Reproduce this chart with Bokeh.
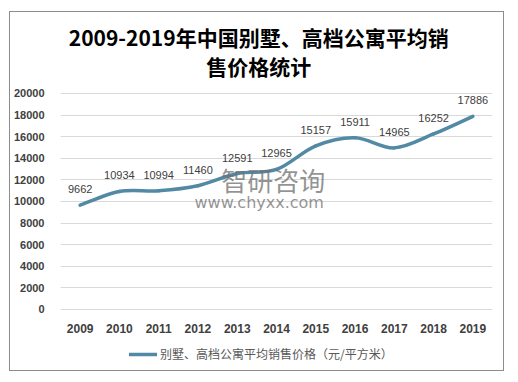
from bokeh.plotting import figure
from bokeh.models import (Range1d, FixedTicker, Label, Legend, LegendItem,
                          ColumnDataSource)
from bokeh.core.properties import value
from bokeh.embed import file_html
from bokeh.resources import INLINE

years = [2009, 2010, 2011, 2012, 2013, 2014, 2015, 2016, 2017, 2018, 2019]
prices = [9662, 10934, 10994, 11460, 12591, 12965, 15157, 15911, 14965, 16252, 17886]
y_ticks = list(range(0, 20001, 2000))
series_name = "别墅、高档公寓平均销售价格（元/平方米）"
title_line1 = "2009-2019年中国别墅、高档公寓平均销"
title_line2 = "售价格统计"

LINE_COLOR = "#528aa5"
CJK = "Noto Sans CJK SC"

# frame extends above and below the 0..20000 band to hold titles, axis labels and legend
p = figure(width=495, height=360, output_backend="svg", toolbar_location=None,
           x_range=Range1d(2008.5, 2019.5), y_range=Range1d(-5741, 27407),
           min_border_left=49, min_border_right=13, min_border_top=1,
           min_border_bottom=1)
p.styles = {"border": "1px solid #8c8c8c", "margin-top": "11px", "margin-left": "9px"}
p.outline_line_color = None
p.background_fill_color = "white"
p.border_fill_color = "white"

# titles (two lines, centred on the chart box)
for txt, yy in ((title_line1, 25185), (title_line2, 22500)):
    p.add_layout(Label(x=2013.547, y=yy, text=txt, text_font=CJK, text_font_size="21px",
                       text_font_style="bold", text_color="#000000",
                       text_align="center", text_baseline="middle"))

# axes
p.xaxis.ticker = FixedTicker(ticks=years)
p.yaxis.ticker = FixedTicker(ticks=y_ticks)
p.xaxis.fixed_location = 0
for ax in (p.xaxis[0], p.yaxis[0]):
    ax.axis_line_color = None
    ax.major_tick_line_color = None
    ax.minor_tick_line_color = None
    ax.major_label_text_font = "Liberation Sans"
    ax.major_label_text_font_style = "bold"
    ax.major_label_text_color = "#404040"
p.xaxis.major_label_text_font_size = "12px"
p.yaxis.major_label_text_font_size = "11px"
p.xaxis.major_label_standoff = 9
p.yaxis.major_label_standoff = 10
p.xgrid.grid_line_color = None
p.ygrid.grid_line_color = "#d9d9d9"
p.ygrid.grid_line_width = 1

# watermark
p.add_layout(Label(x=2013.92, y=12040, text="智研咨询", text_font=CJK, text_font_size="26px",
                   text_color="#707070", text_alpha=0.75, text_align="center",
                   text_baseline="middle"))
p.add_layout(Label(x=2013.56, y=9900, text="www.chyxx.com", text_font="DejaVu Sans",
                   text_font_size="16px", text_color="#707070", text_alpha=0.75,
                   text_align="center", text_baseline="middle"))

# smooth line via bezier segments (control points derived from data)
n = len(years)
x0, y0, x1, y1, cx0, cy0, cx1, cy1 = ([] for _ in range(8))
for i in range(n - 1):
    pxm = years[i - 1] if i > 0 else years[i]
    pym = prices[i - 1] if i > 0 else prices[i]
    pxp = years[i + 2] if i + 2 < n else years[i + 1]
    pyp = prices[i + 2] if i + 2 < n else prices[i + 1]
    x0.append(years[i]); y0.append(prices[i])
    x1.append(years[i + 1]); y1.append(prices[i + 1])
    cx0.append(years[i] + (years[i + 1] - pxm) / 6)
    cy0.append(prices[i] + (prices[i + 1] - pym) / 6)
    cx1.append(years[i + 1] - (pxp - years[i]) / 6)
    cy1.append(prices[i + 1] - (pyp - prices[i]) / 6)
src = ColumnDataSource(dict(x0=x0, y0=y0, x1=x1, y1=y1, cx0=cx0, cy0=cy0, cx1=cx1, cy1=cy1))
bez = p.bezier(x0="x0", y0="y0", x1="x1", y1="y1", cx0="cx0", cy0="cy0", cx1="cx1",
               cy1="cy1", source=src, line_color=LINE_COLOR, line_width=3.5,
               line_cap="round")

# data labels
lab_src = ColumnDataSource(dict(x=years, y=prices, t=[str(v) for v in prices]))
p.text(x="x", y="y", text="t", source=lab_src, text_font=value("Liberation Sans"),
       text_font_size="11px", text_color="#404040", text_align="center",
       text_baseline="middle", y_offset=-16)

legend = Legend(items=[LegendItem(label=series_name, renderers=[bez])],
                location=(69, 9), orientation="horizontal",
                label_text_font=CJK, label_text_font_size="12px",
                label_text_color="#595959", glyph_width=28, glyph_height=14,
                label_standoff=3, padding=0, spacing=0, margin=0,
                border_line_color=None, background_fill_alpha=0)
p.add_layout(legend, "center")

open("out.html", "w").write(file_html(p, INLINE))
